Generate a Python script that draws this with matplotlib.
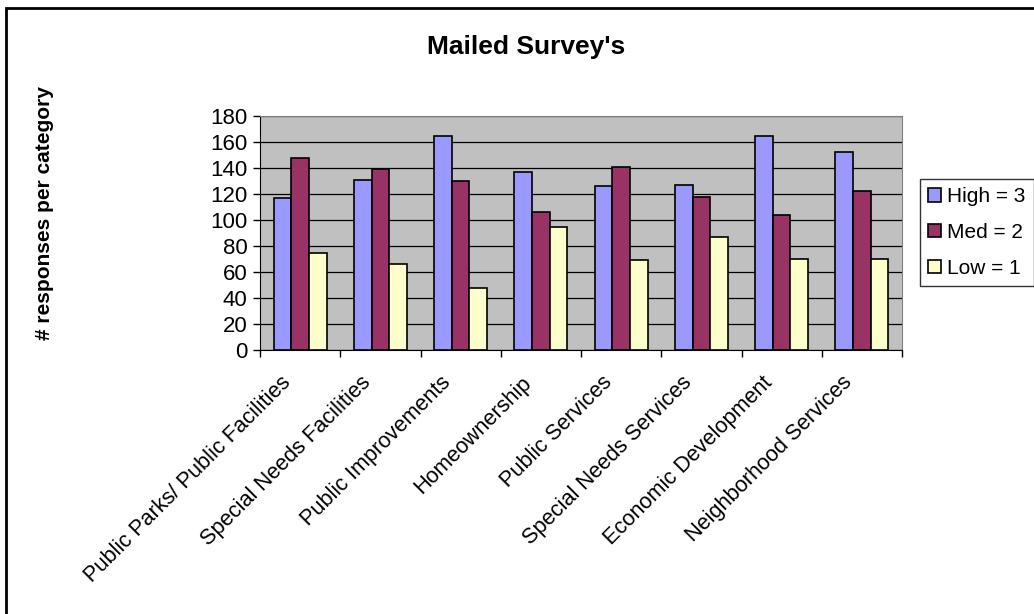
# Mailed survey responses per category, grouped bars (High / Med / Low)

import numpy as np
import matplotlib.pyplot as plt
import matplotlib.transforms as mtransforms
from matplotlib.patches import Rectangle

plt.rcParams['font.family'] = ['Liberation Sans', 'DejaVu Sans']

categories = ['Public Parks/ Public Facilities', 'Special Needs Facilities',
              'Public Improvements', 'Homeownership', 'Public Services',
              'Special Needs Services', 'Economic Development',
              'Neighborhood Services']
high = [117, 131, 165, 137, 126, 127, 165, 152]
med = [148, 139, 130, 106, 141, 118, 104, 122]
low = [75, 66, 48, 95, 69, 87, 70, 70]
series_names = ['High = 3', 'Med = 2', 'Low = 1']

fig = plt.figure(figsize=(10.34, 6.14), dpi=100)
ax = fig.add_axes([260/1034, 1-350/614, 642/1034, 234/614])
ax.set_facecolor('#C0C0C0')

x = np.arange(len(categories))
w = 0.22
colors = ['#9999FF', '#993366', '#FFFFCC']
for i, (vals, name, c) in enumerate(zip([high, med, low], series_names, colors)):
    ax.bar(x + (i-1)*w, vals, w, color=c, edgecolor='black', linewidth=1.2,
           label=name, zorder=3)

ax.set_xlim(-0.5, len(categories)-0.5)
ax.set_ylim(0, 180)
ax.set_yticks(np.arange(0, 181, 20))
ax.yaxis.grid(True, color='black', linewidth=0.9, zorder=1)
ax.set_axisbelow(True)

ax.set_xticks(np.arange(-0.5, len(categories)), minor=False)
ax.set_xticklabels([])
ax.set_xticks(x, minor=True)
ax.set_xticklabels(categories, minor=True, rotation=45, ha='right',
                   va='top', rotation_mode='anchor', fontsize=15.7)
ax.tick_params(axis='x', which='minor', length=0, pad=8)
ax.tick_params(axis='x', which='major', length=5, direction='out', width=1)
ax.tick_params(axis='y', length=5, direction='out', labelsize=16, width=1,
               pad=4)

# nudge category labels left/down, as in the original
shift = mtransforms.ScaledTranslation(-20/100, -11/100, fig.dpi_scale_trans)
for lab in ax.get_xticklabels(minor=True):
    lab.set_transform(lab.get_transform() + shift)

for s in ['top', 'right']:
    ax.spines[s].set_color('#808080')
for s in ['left', 'bottom']:
    ax.spines[s].set_color('black')

fig.text(526/1034, 1-47/614, "Mailed Survey's", ha='center', va='center',
         fontsize=19, fontweight='bold')
fig.text(45/1034, 1-213/614, '# responses per category', ha='center',
         va='center', rotation=90, fontsize=15, fontweight='bold')

leg = fig.legend(loc='upper left', bbox_to_anchor=(920/1034, 1-179/614),
                 fontsize=15, frameon=True, fancybox=False, handlelength=0.6,
                 handleheight=0.6, handletextpad=0.3, borderpad=0.4,
                 labelspacing=0.8, borderaxespad=0)
leg.get_frame().set_edgecolor('black')
leg.get_frame().set_linewidth(1)

# outer chart border (runs off the right and bottom edges)
fig.patches.append(Rectangle((6/1034, -0.1), 1.2, 1-8/614+0.1,
                             transform=fig.transFigure, fill=False,
                             edgecolor='black', linewidth=2))

fig.savefig('out.png', dpi=100)
